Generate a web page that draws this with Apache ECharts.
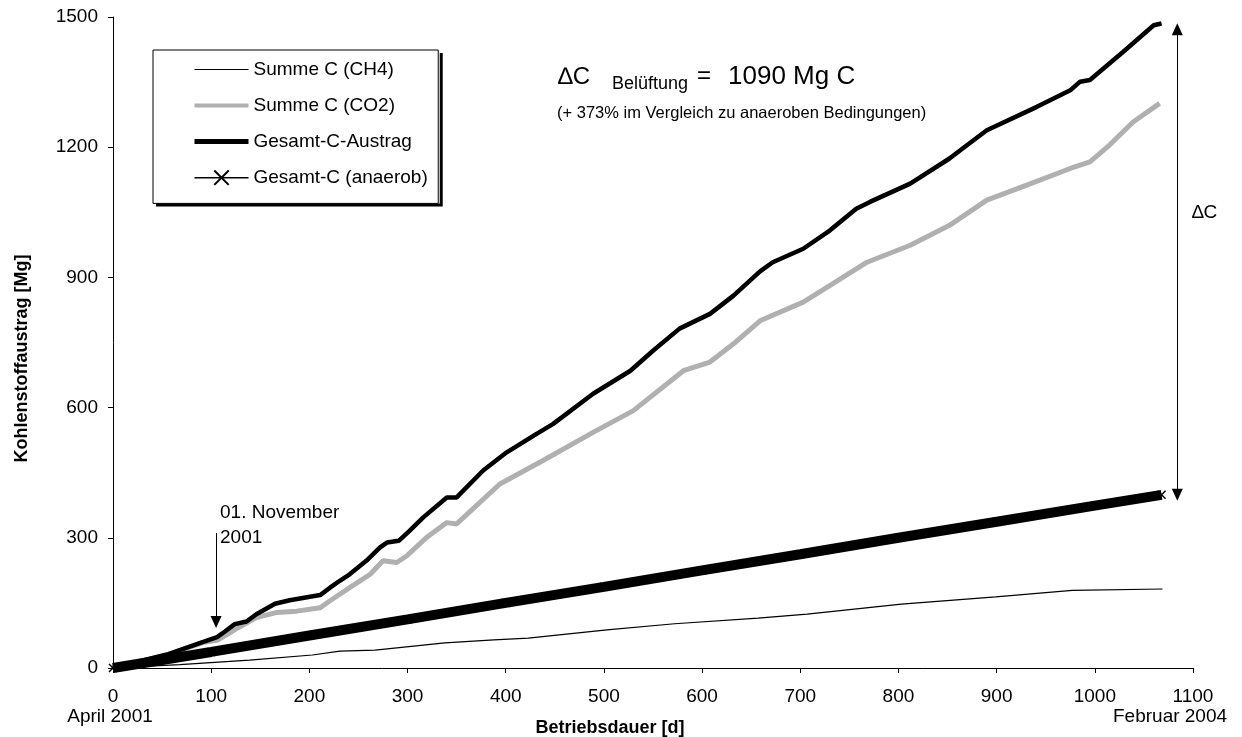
<!DOCTYPE html>
<html lang="de">
<head>
    <meta charset="UTF-8">
    <title>Kohlenstoffaustrag</title>
    <script src="https://cdn.jsdelivr.net/npm/echarts@6/dist/echarts.min.js"></script>
    <style>
        html, body { margin: 0; padding: 0; background: #fff; }
    </style>
</head>
<body>
    <div id="main" style="width: 1242px;height:737px;"></div>
    <script type="text/javascript">
        // Betriebsdauer [d] und Werte [Mg]
        var ch4Days   = [0, 68, 139, 203, 231, 267, 338, 388, 423, 503, 572, 657, 707, 803, 899, 977, 1069];
        var ch4Values = [0, 8, 18, 30, 39, 41, 58, 65, 69, 88, 102, 115, 124, 147, 164, 179, 182];

        var co2Days   = [0, 55, 92, 106, 119, 126, 146, 167, 187, 211, 221, 241, 262, 275, 289, 299, 319, 340, 350,
                         394, 438, 489, 530, 581, 608, 632, 659, 703, 730, 768, 812, 852, 890, 930, 975, 995, 1015, 1039, 1066];
        var co2Values = [0, 30, 59, 64, 81, 91, 116, 128, 131, 139, 155, 185, 216, 247, 243, 258, 300, 335, 332,
                         424, 478, 543, 593, 685, 705, 747, 800, 843, 881, 935, 974, 1020, 1078, 1112, 1151, 1166, 1205, 1258, 1301];

        var totalDays   = [0, 55, 92, 106, 114, 124, 136, 146, 165, 180, 211, 221, 231, 241, 258, 272, 279, 291, 302, 316,
                           340, 350, 377, 401, 431, 448, 489, 527, 550, 577, 608, 632, 659, 672, 703, 730, 757, 771, 812,
                           852, 863, 890, 941, 975, 985, 995, 1029, 1060, 1068];
        var totalValues = [0, 31, 60, 71, 84, 101, 107, 124, 148, 156, 168, 185, 201, 216, 247, 278, 289, 293, 316, 347,
                           393, 393, 455, 497, 539, 562, 632, 685, 731, 782, 816, 858, 914, 935, 966, 1008, 1058, 1074, 1116,
                           1174, 1193, 1239, 1293, 1331, 1351, 1355, 1420, 1481, 1485];

        var anaerobDays   = [0, 100, 200, 300, 400, 500, 600, 700, 800, 900, 1000, 1068];
        var anaerobValues = [0, 37, 75, 112, 150, 187, 225, 262, 300, 337, 374, 399];

        var seriesNames = ['Summe C (CH4)', 'Summe C (CO2)', 'Gesamt-C-Austrag', 'Gesamt-C (anaerob)'];
        var xTicks = [0, 1100, 100];   // min, max, interval
        var yTicks = [0, 1500, 300];

        function pairs(days, values) {
            return days.map(function (d, i) { return [d, values[i]]; });
        }

        var FONT = 'Liberation Sans, Arial, sans-serif';
        var lastTotal = totalValues[totalValues.length - 1];
        var lastAnaerob = anaerobValues[anaerobValues.length - 1];
        var noMarker = { opacity: 0 };

        // Legende zweimal: hinten mit Schatten, vorne nur Rahmen
        var legendBase = {
            orient: 'vertical',
            left: 153,
            top: 50,
            padding: [10, 12, 16, 39],
            itemWidth: 54,
            itemHeight: 18,
            itemGap: 17,
            selectedMode: false,
            textStyle: { fontFamily: FONT, fontSize: 19, color: '#000' }
        };
        var legendBack = Object.assign({}, legendBase, {
            z: 4,
            backgroundColor: '#fff',
            borderWidth: 0,
            shadowColor: '#000',
            shadowBlur: 0,
            shadowOffsetX: 3,
            shadowOffsetY: 3,
            data: [
                { name: seriesNames[0], itemStyle: noMarker, lineStyle: { width: 1.2, color: '#000' } },
                { name: seriesNames[1], itemStyle: noMarker, lineStyle: { width: 4, color: '#b0b0b0' } },
                { name: seriesNames[2], itemStyle: noMarker, lineStyle: { width: 5, color: '#000' } },
                { name: seriesNames[3], lineStyle: { width: 1.5, color: '#000' } }
            ]
        });
        var legendFront = Object.assign({}, legendBase, {
            z: 5,
            backgroundColor: 'transparent',
            borderColor: '#000',
            borderWidth: 1,
            textStyle: { fontFamily: FONT, fontSize: 19, color: 'rgba(0,0,0,0)' },
            data: seriesNames.map(function (n) {
                return { name: n, itemStyle: noMarker, lineStyle: { opacity: 0 } };
            })
        });

        var myChart = echarts.init(document.getElementById('main'));
        var option = {
            animation: false,
            backgroundColor: '#fff',
            textStyle: { fontFamily: FONT, color: '#000' },
            grid: { left: 113, right: 49, top: 17, bottom: 69, outerBoundsMode: 'none' },
            legend: [legendBack, legendFront],
            xAxis: {
                type: 'value',
                min: xTicks[0],
                max: xTicks[1],
                interval: xTicks[2],
                name: 'Betriebsdauer [d]',
                nameLocation: 'middle',
                nameGap: 51,
                nameTextStyle: { fontFamily: FONT, fontSize: 18, fontWeight: 'bold', color: '#000', padding: [0, 86, 0, 0] },
                splitLine: { show: false },
                axisLine: { lineStyle: { color: '#000', width: 1 } },
                axisTick: { length: 5, lineStyle: { color: '#000' } },
                axisLabel: {
                    margin: 19, fontFamily: FONT, fontSize: 19, color: '#000',
                    formatter: function (v) { return String(v); }
                }
            },
            yAxis: {
                type: 'value',
                min: yTicks[0],
                max: yTicks[1],
                interval: yTicks[2],
                name: 'Kohlenstoffaustrag [Mg]',
                nameLocation: 'middle',
                nameGap: 82,
                nameTextStyle: { fontFamily: FONT, fontSize: 18, fontWeight: 'bold', color: '#000', padding: [0, 32, 0, 0] },
                splitLine: { show: false },
                axisLine: { show: true, lineStyle: { color: '#000', width: 1 } },
                axisTick: { show: true, length: 5, lineStyle: { color: '#000' } },
                axisLabel: {
                    margin: 15, fontFamily: FONT, fontSize: 19, color: '#000',
                    formatter: function (v) { return String(v); }
                }
            },
            series: [
                {
                    name: seriesNames[0],
                    type: 'line',
                    symbol: 'none',
                    color: '#000',
                    lineStyle: { color: '#000', width: 1.2 },
                    data: pairs(ch4Days, ch4Values)
                },
                {
                    name: seriesNames[1],
                    type: 'line',
                    symbol: 'none',
                    color: '#b0b0b0',
                    lineStyle: { color: '#b0b0b0', width: 5 },
                    data: pairs(co2Days, co2Values)
                },
                {
                    name: seriesNames[2],
                    type: 'line',
                    symbol: 'none',
                    color: '#000',
                    lineStyle: { color: '#000', width: 4.5 },
                    data: pairs(totalDays, totalValues)
                },
                {
                    name: seriesNames[3],
                    type: 'line',
                    symbol: 'path://M0,0L10,10M10,0L0,10',
                    symbolSize: 8,
                    showSymbol: true,
                    color: '#000',
                    itemStyle: { color: 'none', borderColor: '#000', borderWidth: 1.5 },
                    lineStyle: { color: '#000', width: 10 },
                    data: pairs(anaerobDays, anaerobValues),
                    markLine: {
                        silent: true,
                        animation: false,
                        label: { show: false },
                        lineStyle: { color: '#000', width: 1, type: 'solid' },
                        symbolSize: [11, 12],
                        data: [
                            [
                                { coord: [1084, lastTotal - 13], symbol: 'triangle' },
                                { coord: [1084, lastAnaerob], symbol: 'triangle' }
                            ],
                            [
                                { coord: [105, 311], symbol: 'none' },
                                { coord: [105, 106], symbol: 'triangle' }
                            ]
                        ]
                    }
                }
            ],
            graphic: [
                { type: 'text', x: 220, y: 513, style: { text: '01. November', font: '19px ' + FONT, fill: '#000', verticalAlign: 'middle', textVerticalAlign: 'middle' } },
                { type: 'text', x: 220, y: 538, style: { text: '2001', font: '19px ' + FONT, fill: '#000', verticalAlign: 'middle', textVerticalAlign: 'middle' } },
                { type: 'text', x: 558, y: 77, style: { text: '\u2206C', font: '24px ' + FONT, fill: '#000', verticalAlign: 'middle', textVerticalAlign: 'middle' } },
                { type: 'text', x: 612, y: 84, style: { text: 'Belüftung', font: '18px ' + FONT, fill: '#000', verticalAlign: 'middle', textVerticalAlign: 'middle' } },
                { type: 'text', x: 697, y: 76, style: { text: '=', font: '24px ' + FONT, fill: '#000', verticalAlign: 'middle', textVerticalAlign: 'middle' } },
                { type: 'text', x: 728, y: 77, style: { text: '1090 Mg C', font: '26px ' + FONT, fill: '#000', verticalAlign: 'middle', textVerticalAlign: 'middle' } },
                { type: 'text', x: 557, y: 113, style: { text: '(+ 373% im Vergleich zu anaeroben Bedingungen)', font: '16.5px ' + FONT, fill: '#000', verticalAlign: 'middle', textVerticalAlign: 'middle' } },
                { type: 'text', x: 1192, y: 213, style: { text: '\u2206C', font: '19px ' + FONT, fill: '#000', verticalAlign: 'middle', textVerticalAlign: 'middle' } },
                { type: 'text', x: 110, y: 717, style: { text: 'April 2001', font: '19px ' + FONT, fill: '#000', align: 'center', textAlign: 'center', verticalAlign: 'middle', textVerticalAlign: 'middle' } },
                { type: 'text', x: 1113, y: 717, style: { text: 'Februar 2004', font: '19px ' + FONT, fill: '#000', verticalAlign: 'middle', textVerticalAlign: 'middle' } }
            ]
        };
        myChart.setOption(option);
    </script>
</body>
</html>
